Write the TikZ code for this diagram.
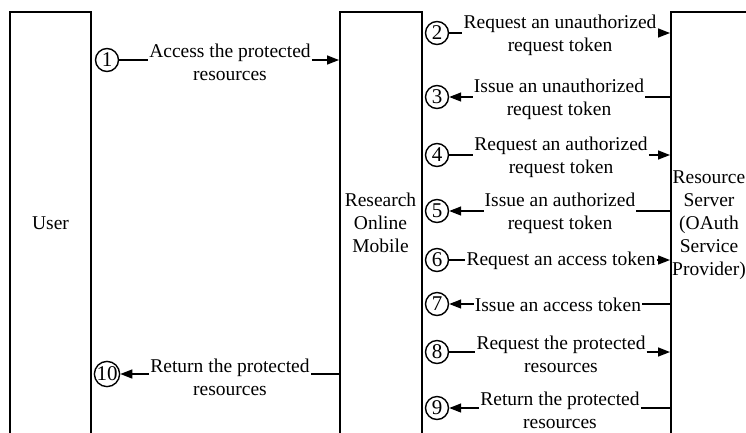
\documentclass[tikz,border=0pt]{standalone}
\usepackage{fontspec}
\setmainfont{Liberation Serif}
\usetikzlibrary{arrows.meta}
\begin{document}
\begin{tikzpicture}[x=1pt,y=-1pt,
  every node/.style={font=\fontsize{19.5}{23}\selectfont},
  box/.style={draw,line width=1.5pt,rectangle,minimum width=#1,minimum height=440pt,anchor=north west,inner sep=0pt},
  num/.style={draw,circle,line width=1.4pt,inner sep=0pt,minimum size=23pt,font=\fontsize{21}{23}\selectfont},
  msg/.style={align=center,inner sep=1pt},
  conn/.style={line width=1.5pt},
  arr/.style={line width=1.5pt,-{Triangle[length=12pt,width=9pt]}},
]
\useasboundingbox (0,0) rectangle (746,432);
% lifelines
\node[box=81] (U) at (9,11) {};
\node[box=82] (R) at (339,11) {};
\node[box=100] (S) at (670,11) {};
\node (ul) at (50.5,223) {User};
\node[align=center] (rl) at (380.5,223) {Research\\Online\\Mobile};
\node[align=center] (sl) at (709,225) {Resource\\Server\\(OAuth\\Service\\Provider)};
% numbers
\node[num] (c1) at (107,60) {1};
\node[num] (c10) at (107,374) {10};
\node[num] (c2) at (437,33) {2};
\node[num] (c3) at (437,97) {3};
\node[num] (c4) at (437,155) {4};
\node[num] (c5) at (437,211) {5};
\node[num] (c6) at (437,260) {6};
\node[num] (c7) at (437,304) {7};
\node[num] (c8) at (437,352) {8};
\node[num] (c9) at (437,408) {9};
% messages
\node[msg] (m1) at (230,62) {Access the protected\\resources};
\node[msg] (m10) at (230,377) {Return the protected\\resources};
\node[msg] (m2) at (560,35) {Request an unauthorized\\request token};
\node[msg] (m3) at (559,99) {Issue an unauthorized\\request token};
\node[msg] (m4) at (561,157) {Request an authorized\\request token};
\node[msg] (m5) at (560,213) {Issue an authorized\\request token};
\node[msg] (m6) at (561,261) {Request an access token};
\node[msg] (m7) at (558,305) {Issue an access token};
\node[msg] (m8) at (561,354) {Request the protected\\resources};
\node[msg] (m9) at (560,410) {Return the protected\\resources};
% connectors: requests (left to right)
\draw[conn] (c1) -- (c1 -| m1.west);
\draw[arr] (c1 -| m1.east) -- (c1 -| R.west);
\foreach \i in {2,4,6,8}{
  \draw[conn] (c\i) -- (c\i -| m\i.west);
  \draw[arr] (c\i -| m\i.east) -- (c\i -| S.west);
}
% connectors: responses (right to left)
\draw[conn] (c10 -| R.west) -- (c10 -| m10.east);
\draw[arr] (c10 -| m10.west) -- (c10);
\foreach \i in {3,5,7,9}{
  \draw[conn] (c\i -| S.west) -- (c\i -| m\i.east);
  \draw[arr] (c\i -| m\i.west) -- (c\i);
}
\end{tikzpicture}
\end{document}
